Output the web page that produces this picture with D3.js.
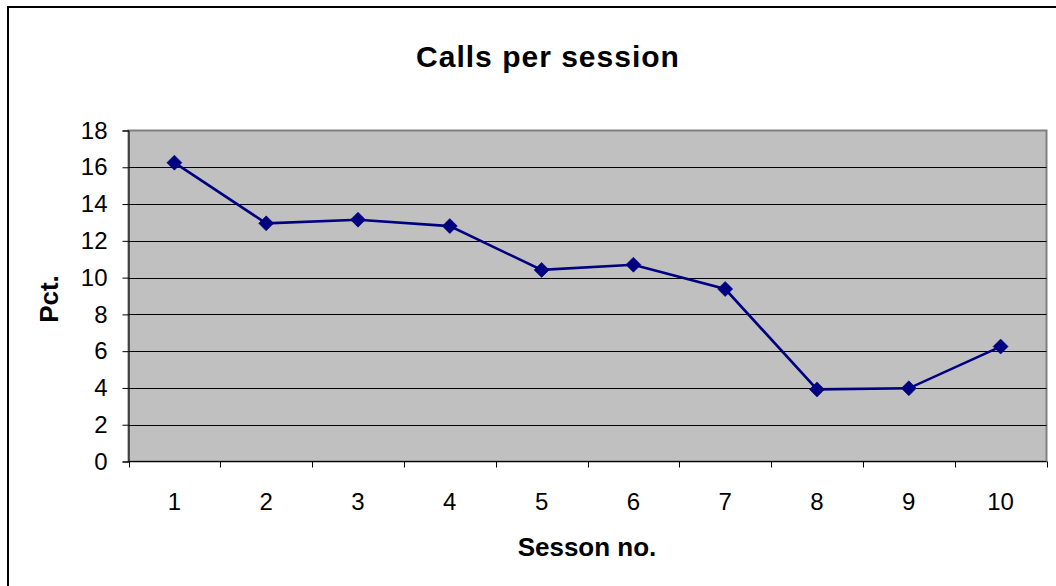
<!DOCTYPE html>
<html>
<head>
<meta charset="utf-8">
<script src="https://d3js.org/d3.v7.min.js"></script>
<style>
  html, body { margin: 0; padding: 0; background: #fff; }
  svg { display: block; }
  text { font-family: "Liberation Sans", Arial, sans-serif; fill: #000; }
</style>
</head>
<body>
<svg id="chart" width="1056" height="586"></svg>
<script>
// Session numbers and the share of calls in each session
const sessions = ["1", "2", "3", "4", "5", "6", "7", "8", "9", "10"];
const pctValues = [16.25, 12.95, 13.15, 12.8, 10.42, 10.7, 9.38, 3.92, 3.98, 6.25];
const yTicks = [0, 2, 4, 6, 8, 10, 12, 14, 16, 18];

const titleText = "Calls per session";
const xLabel = "Sesson no.";
const yLabel = "Pct.";

const svg = d3.select("#chart");

// Chart frame
svg.append("rect")
  .attr("x", 8).attr("y", 7)
  .attr("width", 1060).attr("height", 600)
  .attr("fill", "#fff").attr("stroke", "#000").attr("stroke-width", 2);

const plot = { left: 128.5, top: 130.5, right: 1046.5, bottom: 461.5 };

const x = d3.scaleBand().domain(sessions).range([plot.left, plot.right]).padding(0);
const y = d3.scaleLinear().domain([0, 18]).range([plot.bottom, plot.top]);

// Plot area background
svg.append("rect")
  .attr("x", plot.left).attr("y", plot.top)
  .attr("width", plot.right - plot.left).attr("height", plot.bottom - plot.top)
  .attr("fill", "#c0c0c0").attr("stroke", "#808080").attr("stroke-width", 2);

// Horizontal gridlines
svg.append("g").selectAll("line")
  .data(yTicks.filter(d => d > 0 && d < 18))
  .join("line")
  .attr("x1", plot.left).attr("x2", plot.right)
  .attr("y1", d => Math.round(y(d)) + 0.5).attr("y2", d => Math.round(y(d)) + 0.5)
  .attr("stroke", "#000").attr("stroke-width", 1);

// Y axis
const yAxis = d3.axisLeft(y).tickValues(yTicks).tickSize(6).tickPadding(15);
const gy = svg.append("g").attr("transform", `translate(${plot.left},0)`).call(yAxis);
gy.select(".domain").attr("stroke", "#000").attr("stroke-width", 1);
gy.selectAll(".tick line").attr("stroke", "#000");
gy.selectAll(".tick text").attr("font-size", 24).attr("font-family", "Liberation Sans, Arial, sans-serif").attr("fill", "#000");

// X axis: category labels centred in each band, ticks on band edges
const gx = svg.append("g").attr("transform", `translate(0,${plot.bottom})`);
gx.append("line")
  .attr("x1", plot.left).attr("x2", plot.right)
  .attr("stroke", "#000");
const edges = sessions.map(s => x(s)).concat([x(sessions[sessions.length - 1]) + x.bandwidth()]);
gx.selectAll("line.edge").data(edges).join("line")
  .attr("class", "edge")
  .attr("x1", d => Math.round(d) + 0.5).attr("x2", d => Math.round(d) + 0.5)
  .attr("y1", 0).attr("y2", 6)
  .attr("stroke", "#000");
gx.selectAll("text").data(sessions).join("text")
  .attr("x", d => x(d) + x.bandwidth() / 2)
  .attr("y", 48)
  .attr("text-anchor", "middle")
  .attr("font-size", 24)
  .text(d => d);

// Series line
const line = d3.line()
  .x((d, i) => x(sessions[i]) + x.bandwidth() / 2)
  .y(d => y(d));
svg.append("path")
  .datum(pctValues)
  .attr("d", line)
  .attr("fill", "none")
  .attr("stroke", "#000080")
  .attr("stroke-width", 2.6);

// Diamond markers
svg.append("g").selectAll("path")
  .data(pctValues)
  .join("path")
  .attr("transform", (d, i) => `translate(${x(sessions[i]) + x.bandwidth() / 2},${y(d)})`)
  .attr("d", "M0,-7.5L7.5,0L0,7.5L-7.5,0Z")
  .attr("fill", "#000080")
  .attr("stroke", "#000080")
  .attr("stroke-width", 0.6);

// Titles
svg.append("text")
  .attr("x", 548).attr("y", 67)
  .attr("text-anchor", "middle")
  .attr("font-size", 30).attr("font-weight", "bold")
  .attr("letter-spacing", 1)
  .text(titleText);

svg.append("text")
  .attr("x", 587).attr("y", 556)
  .attr("text-anchor", "middle")
  .attr("font-size", 26).attr("font-weight", "bold")
  .text(xLabel);

svg.append("text")
  .attr("transform", "translate(58,299) rotate(-90)")
  .attr("text-anchor", "middle")
  .attr("font-size", 26).attr("font-weight", "bold")
  .text(yLabel);
</script>
</body>
</html>
